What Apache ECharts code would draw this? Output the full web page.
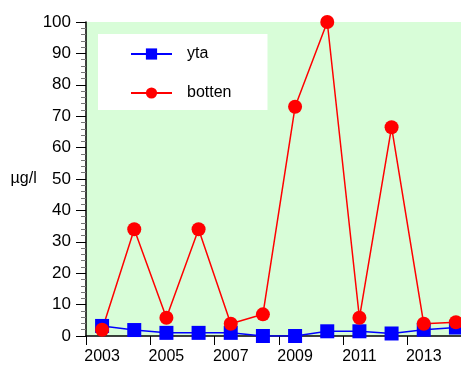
<!DOCTYPE html>
<html>
<head>
<meta charset="utf-8">
<script src="https://cdn.jsdelivr.net/npm/echarts@6/dist/echarts.min.js"></script>
<style>
  html, body { margin: 0; padding: 0; background: #fff; overflow: hidden; }
  #main { width: 472px; height: 365px; }
</style>
</head>
<body>
<div id="main"></div>
<script>
// values
var years = ['2003','2004','2005','2006','2007','2008','2009','2010','2011','2012','2013','2014'];
var yta = [3.2, 1.9, 1.0, 1.0, 1.0, 0, 0, 1.5, 1.5, 0.8, 2.0, 2.7];
var botten = [2.0, 34, 5.8, 34, 3.9, 6.9, 73, 100, 5.8, 66.5, 3.9, 4.4];
var yTicks = [0, 10, 20, 30, 40, 50, 60, 70, 80, 90, 100];

var font = 'Liberation Sans, Arial, sans-serif';
var myChart = echarts.init(document.getElementById('main'));

// plot runs past the right edge of the window, like the original
var option = {
    animation: false,
    grid: {
        left: 86, right: 0, top: 22, bottom: 28,
        show: true, backgroundColor: '#d8fdd8', borderWidth: 0
    },
    legend: {
        left: 98, top: 34,
        orient: 'vertical',
        backgroundColor: '#ffffff',
        padding: [12, 36, 9, 32],
        itemGap: 23,
        itemWidth: 41, itemHeight: 14,
        textStyle: { fontFamily: font, fontSize: 16, color: '#000', padding: [0, 0, 0, 10] },
        data: ['yta', 'botten']
    },
    xAxis: {
        type: 'category',
        data: years,
        boundaryGap: true,
        axisLine: { lineStyle: { color: '#000', width: 1.5 } },
        axisTick: { show: true, length: 9, inside: false, lineStyle: { color: '#000', width: 1 } },
        axisLabel: { interval: 1, color: '#000', fontFamily: font, fontSize: 16, margin: 13 },
        splitLine: { show: false }
    },
    yAxis: {
        type: 'value',
        min: yTicks[0], max: yTicks[yTicks.length - 1], interval: 10,
        name: 'µg/l',
        nameLocation: 'middle',
        nameRotate: 0,
        nameGap: 48,
        nameTextStyle: { fontFamily: font, fontSize: 16, color: '#000', align: 'right' },
        axisLine: { show: true, lineStyle: { color: '#000', width: 1.5 } },
        axisTick: { show: true, length: 10, lineStyle: { color: '#000' } },
        minorTick: { show: true, splitNumber: 5, length: 5, lineStyle: { color: '#777' } },
        axisLabel: { color: '#000', fontFamily: font, fontSize: 17, margin: 15 },
        splitLine: { show: false }
    },
    series: [
        {
            name: 'yta', type: 'line', data: yta,
            symbol: 'rect', symbolSize: 14,
            itemStyle: { color: '#0000ff' },
            lineStyle: { color: '#0000ff', width: 1.5 }
        },
        {
            name: 'botten', type: 'line', data: botten,
            symbol: 'circle', symbolSize: 14,
            itemStyle: { color: '#ff0000' },
            lineStyle: { color: '#ff0000', width: 1.5 }
        }
    ]
};

myChart.setOption(option);
</script>
</body>
</html>
